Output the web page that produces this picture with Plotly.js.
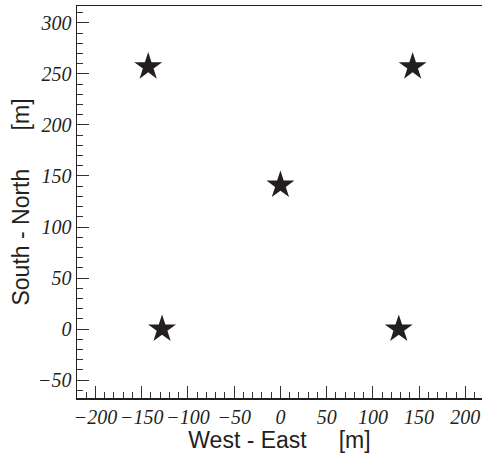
<!DOCTYPE html>
<html>
<head>
<meta charset="utf-8">
<script src="https://cdn.plot.ly/plotly-3.0.1.min.js"></script>
<style>html,body{margin:0;padding:0;background:#fff;}#chart{width:482px;height:455px;}</style>
</head>
<body>
<div id="chart"></div>
<script>
var westEast = [-143, 143, 0, -128, 128];
var southNorth = [257, 257, 141, 0, 0];
var xTickVals = [-200, -150, -100, -50, 0, 50, 100, 150, 200];
var yTickVals = [-50, 0, 50, 100, 150, 200, 250, 300];

function fmt(v) { return '<i>' + (v < 0 ? '\u2212' + Math.abs(v) : String(v)) + '</i>'; }
function sp(n) { return new Array(n + 1).join('\u00a0'); }

var trace = {
  x: westEast,
  y: southNorth,
  mode: 'markers',
  type: 'scatter',
  marker: {symbol: 'star', size: 21, color: '#231f20', line: {width: 0}},
  hoverinfo: 'none'
};

var tickFont = {family: '"Liberation Serif", "Times New Roman", serif', size: 20, color: '#231f20', style: 'italic'};
var titleFont = {family: '"Liberation Sans", Arial, sans-serif', size: 23, color: '#231f20'};
var layout = {
  width: 482,
  height: 455,
  margin: {l: 77, r: 0, t: 6, b: 57},
  paper_bgcolor: '#fff',
  plot_bgcolor: '#fff',
  showlegend: false,
  xaxis: {
    range: [-220, 218],
    tickvals: xTickVals,
    ticktext: xTickVals.map(fmt),
    ticks: 'inside',
    ticklen: 12,
    tickwidth: 1,
    tickcolor: '#333',
    minor: {dtick: 10, ticks: 'inside', ticklen: 6, tickwidth: 1, tickcolor: '#333', showgrid: false},
    showline: true,
    linecolor: '#231f20',
    linewidth: 1.5,
    mirror: true,
    showgrid: false,
    zeroline: false,
    tickfont: tickFont,
    title: {text: sp(1) + 'West - East' + sp(5) + '[m]', font: titleFont, standoff: 4}
  },
  yaxis: {
    range: [-67.5, 316.5],
    tickvals: yTickVals,
    ticktext: yTickVals.map(fmt),
    ticks: 'inside',
    ticklen: 12,
    tickwidth: 1,
    tickcolor: '#333',
    minor: {dtick: 10, ticks: 'inside', ticklen: 6, tickwidth: 1, tickcolor: '#333', showgrid: false},
    showline: true,
    linecolor: '#231f20',
    linewidth: 1.5,
    mirror: false,
    showgrid: false,
    zeroline: false,
    tickfont: tickFont,
    title: {text: 'South - North' + sp(6) + '[m]', font: titleFont, standoff: 2}
  }
};

Plotly.newPlot('chart', [trace], layout, {staticPlot: true, displayModeBar: false});
</script>
</body>
</html>
